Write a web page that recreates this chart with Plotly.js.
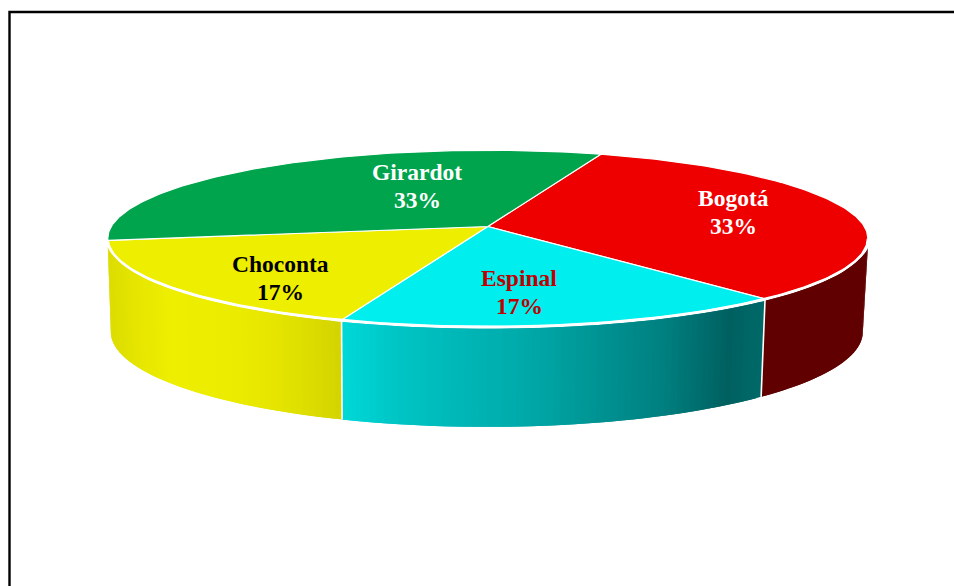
<!DOCTYPE html>
<html>
<head>
<meta charset="utf-8">
<script src="https://cdn.plot.ly/plotly-3.0.1.min.js"></script>
<style>html,body{margin:0;padding:0;background:#fff}</style>
</head>
<body>
<div id="chart" style="width:954px;height:586px"></div>
<script>
// Slices, clockwise from the back of the disc
const categories = ['Bogotá', 'Espinal', 'Choconta', 'Girardot'];
const values = [33, 17, 17, 33];
const topColors = ['#EE0000', '#00EEEE', '#EEEE00', '#00A44C'];
const labelColors = ['#FFFFFF', '#C00000', '#000000', '#FFFFFF'];
const labelX = [733, 519, 280, 417];
const labelY = [198, 278, 264, 172];

// Side wall shading: horizontal position and colour of each stop
const sideStopX = [
  [760, 868],
  [342, 400, 530, 663, 730, 760],
  [108, 130, 170, 230, 280, 340],
  []
];
const sideStopRGB = [
  [[96, 0, 0], [96, 0, 0]],
  [[0, 216, 216], [0, 196, 196], [0, 168, 168], [0, 128, 128], [0, 96, 96], [0, 104, 104]],
  [[220, 220, 0], [228, 228, 0], [238, 238, 0], [236, 236, 0], [228, 228, 0], [212, 212, 0]],
  []
];

const startAngle = 70.2;
const topDisc = {cx: 487.8, cy: 226.5, a: 376.5, b: 86.6, p: 0.136};
const baseDisc = {cx: 486.8, cy: 319, a: 372.5, b: 93.2, p: 0.136};

// Perspective projection of a disc point at an angle in degrees
function project(disc, deg) {
  const t = deg * Math.PI / 180;
  const u = Math.cos(t), v = Math.sin(t);
  const w = 1 + disc.p * v;
  return [disc.cx + disc.a * u / w, disc.cy - disc.b * v / w];
}

function range(from, to, step) {
  const n = Math.max(1, Math.ceil(Math.abs(to - from) / step));
  return Array.from({length: n + 1}, (_, i) => from + (to - from) * i / n);
}

function shade(stopX, stopRGB, x) {
  if (x <= stopX[0]) return stopRGB[0];
  for (let i = 1; i < stopX.length; i++) {
    if (x <= stopX[i]) {
      const f = (x - stopX[i - 1]) / (stopX[i] - stopX[i - 1]);
      return stopRGB[i].map((c, k) => Math.round(stopRGB[i - 1][k] + (c - stopRGB[i - 1][k]) * f));
    }
  }
  return stopRGB[stopRGB.length - 1];
}

const total = values.reduce((s, v) => s + v, 0);
const edges = [startAngle];
values.forEach(v => edges.push(edges[edges.length - 1] - v / total * 360));

const silhouetteRight = -8;

// Gap below the rim, widening where the wall turns out of sight
function rimGap(deg) {
  const right = Math.max(0, 1 - Math.abs(deg - silhouetteRight) / 14);
  const left = Math.max(0, 1 - Math.abs(deg - edges[3]) / 12);
  return 2 + 7 * right * right + 5 * left * left;
}

const traces = [];

// Side walls: each strip reaches under the next one so no seams show between them
[0, 1, 2].forEach(i => {
  const from = Math.min(edges[i], silhouetteRight);
  const to = edges[i + 1];
  const steps = range(from, to, 1);
  for (let k = 0; k < steps.length - 1; k++) {
    const d0 = steps[k], d1 = steps[Math.min(k + 2, steps.length - 1)];
    const t0 = project(topDisc, d0), t1 = project(topDisc, d1);
    const b0 = project(baseDisc, d0), b1 = project(baseDisc, d1);
    const mid = project(topDisc, (steps[k] + steps[k + 1]) / 2);
    const rgb = shade(sideStopX[i], sideStopRGB[i], mid[0]);
    const color = `rgb(${rgb.join(',')})`;
    traces.push({
      type: 'scatter', mode: 'lines', hoverinfo: 'skip', showlegend: false,
      x: [t0[0], t1[0], b1[0], b0[0], t0[0]],
      y: [t0[1] + rimGap(d0), t1[1] + rimGap(d1), b1[1], b0[1], t0[1] + rimGap(d0)],
      fill: 'toself', fillcolor: color,
      line: {color: color, width: 0}
    });
  }
});

// White seams where the side walls meet
[1, 2].forEach(i => {
  const t = project(topDisc, edges[i]);
  const b = project(baseDisc, edges[i]);
  traces.push({
    type: 'scatter', mode: 'lines', hoverinfo: 'skip', showlegend: false,
    x: [t[0], b[0]], y: [t[1], b[1]],
    line: {color: '#FFFFFF', width: 1.6}
  });
});

// Top face wedges
categories.forEach((name, i) => {
  const arc = range(edges[i], edges[i + 1], 1).map(d => project(topDisc, d));
  traces.push({
    type: 'scatter', mode: 'lines', name: name, hoverinfo: 'name', showlegend: false,
    x: [topDisc.cx].concat(arc.map(p => p[0]), [topDisc.cx]),
    y: [topDisc.cy].concat(arc.map(p => p[1]), [topDisc.cy]),
    fill: 'toself', fillcolor: topColors[i],
    line: {color: '#FFFFFF', width: 1.2}
  });
});

// Bright front rim of the top face
const rim = range(silhouetteRight, edges[3], 1).map(d => project(topDisc, d));
traces.push({
  type: 'scatter', mode: 'lines', hoverinfo: 'skip', showlegend: false,
  x: rim.map(p => p[0]), y: rim.map(p => p[1]),
  line: {color: '#FFFFFF', width: 2.2}
});

// Two-line slice labels
const annotations = [];
categories.forEach((name, i) => {
  const pct = Math.round(values[i] / total * 100) + '%';
  [[name, 0], [pct, 27.5]].forEach(([text, dy]) => annotations.push({
    x: labelX[i], y: labelY[i] + dy, xref: 'x', yref: 'y',
    text: '<b>' + text + '</b>', showarrow: false,
    font: {family: '"Liberation Serif", "Times New Roman", serif', size: 23.5, color: labelColors[i]}
  }));
});

const layout = {
  width: 954, height: 586,
  margin: {l: 0, r: 0, t: 0, b: 0},
  paper_bgcolor: '#FFFFFF', plot_bgcolor: '#FFFFFF',
  showlegend: false,
  xaxis: {range: [0, 954], visible: false, fixedrange: true},
  yaxis: {range: [586, 0], visible: false, fixedrange: true},
  annotations: annotations,
  shapes: [
    {type: 'path', xref: 'x', yref: 'y', path: 'M 9.5 586 L 9.5 12 L 954 12',
     line: {color: '#000000', width: 2.4}}
  ]
};

Plotly.newPlot('chart', traces, layout, {displayModeBar: false, staticPlot: true});
</script>
</body>
</html>
